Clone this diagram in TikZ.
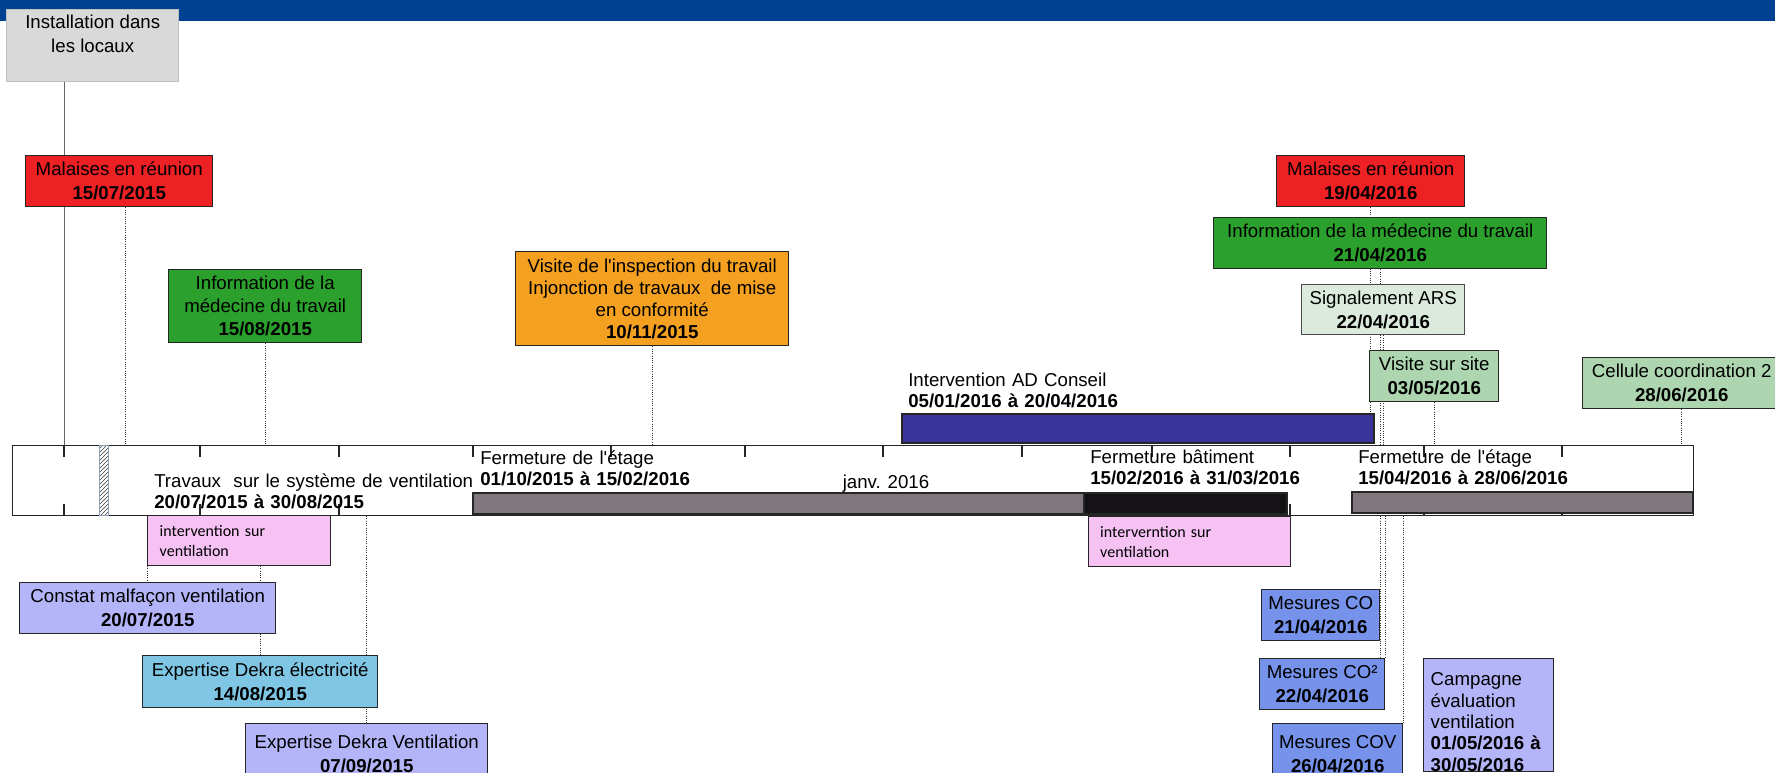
\documentclass[tikz,border=0pt]{standalone}
\usepackage{fontspec}
\setmainfont{Liberation Sans}
\newfontfamily\calib{Carlito}
\usepackage{tikz}
\usetikzlibrary{backgrounds,patterns}
\newcommand{\px}{0.75pt}
\newcommand{\boxfont}{\fontsize{14}{18}\selectfont}
\newcommand{\tagfont}{\fontsize{14}{16}\selectfont}
\newcommand{\notefont}{\calib\fontsize{12}{15}\selectfont}
\newcommand{\apos}{\textquotesingle}
\definecolor{topbar}{RGB}{0,65,145}
\definecolor{instfill}{RGB}{217,217,217}
\definecolor{instline}{RGB}{191,191,191}
\definecolor{redbox}{RGB}{237,32,36}
\definecolor{greenbox}{RGB}{44,160,44}
\definecolor{orangebox}{RGB}{244,160,32}
\definecolor{lavbox}{RGB}{180,180,248}
\definecolor{skybox}{RGB}{126,198,228}
\definecolor{pinkbox}{RGB}{246,194,244}
\definecolor{mesbox}{RGB}{118,146,234}
\definecolor{sigbox}{RGB}{220,234,222}
\definecolor{sitebox}{RGB}{173,214,176}
\definecolor{adbar}{RGB}{58,51,153}
\definecolor{closebar}{RGB}{128,118,125}
\definecolor{shutbar}{RGB}{20,18,20}
\definecolor{hatchline}{RGB}{140,160,190}
\tikzset{
  evt/.style={draw=black!85, line width=1.1pt, inner sep=0pt, align=center, anchor=north west, font=\boxfont},
  boxsize/.style 2 args={minimum width=#1*\px, minimum height=#2*\px},
  note/.style={evt, fill=pinkbox, align=left, font=\notefont},
  tag/.style={inner sep=0pt, anchor=base west, text width=300pt, align=left, font=\tagfont},
  link/.style={densely dotted, black!80, line width=0.7pt},
  tick/.style={black!85, line width=0.9pt},
  bar/.style={draw=black!85, line width=0.9pt},
}

\begin{document}
\begin{tikzpicture}[x=\px, y=-\px]
\useasboundingbox (0,0) rectangle (1775,772);
\fill[topbar] (0,0) rectangle (1775,21);
\node[evt, fill=instfill, draw=instline, boxsize={172}{72}] (inst) at (6,9) {Installation dans\\les locaux\\\mbox{}};

\node[draw=black!85, line width=0.9pt, fill=white, inner sep=0pt, anchor=north west, boxsize={1681}{70}] (band) at (12,445) {};
\foreach \x [count=\i] in {64,200,339,473,611,745,883,1022,1152,1290,1424,1562}{
  \coordinate (t\i) at (\x,445);
  \draw[tick] (t\i) -- ++(0,12) (t\i |- band.south) -- ++(0,-12);
}
\draw[draw=hatchline, line width=0.6pt, pattern=north east lines, pattern color=black!75] (99,445) rectangle (108,515);
\draw[bar, fill=closebar] (473,493) rectangle (1084,514);
\draw[bar, fill=shutbar] (1084,493) rectangle (1287,514);
\draw[bar, fill=closebar] (1352,492) rectangle (1693,513);
\draw[bar, fill=adbar] (902,414) rectangle (1374,443);

\node[tag] (trav) at (154,487) {Travaux\ \ sur le système de ventilation\\\textbf{20/07/2015 à 30/08/2015}};
\node[tag] (etage1) at (480,464) {Fermeture de l\apos étage\\\textbf{01/10/2015 à 15/02/2016}};
\node[tag] (bat) at (1090,463) {Fermeture bâtiment\\\textbf{15/02/2016 à 31/03/2016}};
\node[tag] (etage2) at (1358,463) {Fermeture de l\apos étage\\\textbf{15/04/2016 à 28/06/2016}};
\node[tag] (conseil) at (908,386) {Intervention AD Conseil\\\textbf{05/01/2016 à 20/04/2016}};
\node[font=\tagfont, inner sep=0pt, anchor=base] (janv) at (886,488) {janv. 2016};

\node[evt, fill=redbox, boxsize={187}{51}] (mal1) at (25,155) {Malaises en réunion\\\textbf{15/07/2015}};
\node[evt, fill=greenbox, boxsize={193}{73}, font=\fontsize{14}{17.25}\selectfont] (med1) at (168,269) {Information de la\\médecine du travail\\\textbf{15/08/2015}};
\node[evt, fill=orangebox, boxsize={273}{94}, font=\fontsize{14}{16.5}\selectfont] (inspect) at (515,251) {Visite de l\apos inspection du travail\\Injonction de travaux\ \ de mise\\en conformité\\\textbf{10/11/2015}};
\node[evt, fill=redbox, boxsize={188}{51}] (mal2) at (1276,155) {Malaises en réunion\\\textbf{19/04/2016}};
\node[evt, fill=greenbox, boxsize={333}{51}] (med2) at (1213,217) {Information de la médecine du travail\\\textbf{21/04/2016}};
\node[evt, fill=sigbox, draw=black!70, boxsize={163}{50}] (ars) at (1301,284) {Signalement ARS\\\textbf{22/04/2016}};
\node[evt, fill=sitebox, boxsize={129}{51}] (site) at (1369,350) {Visite sur site\\\textbf{03/05/2016}};
\node[evt, fill=sitebox, boxsize={198}{51}] (cell) at (1582,357) {Cellule coordination 2\\\textbf{28/06/2016}};

\node[note, text width=119.25pt, inner xsep=9pt, minimum height=37.5pt] (vent1) at (147,515) {intervention sur\\ventilation};
\node[evt, fill=lavbox, boxsize={256}{51}] (malf) at (19,582) {Constat malfaçon ventilation\\\textbf{20/07/2015}};
\node[evt, fill=skybox, boxsize={235}{52}] (elec) at (142,655) {Expertise Dekra électricité\\\textbf{14/08/2015}};
\node[evt, fill=lavbox, boxsize={242}{60}] (dekra) at (245,723) {Expertise Dekra Ventilation\\\textbf{07/09/2015}};
\node[note, text width=134.25pt, inner xsep=8.6pt, minimum height=37.5pt] (vent2) at (1088,516) {interverntion sur\\ventilation};
\node[evt, fill=mesbox, boxsize={118}{51}] (co) at (1261,589) {Mesures CO\\\textbf{21/04/2016}};
\node[evt, fill=mesbox, boxsize={125}{51}] (cotwo) at (1259,658) {Mesures CO²\\\textbf{22/04/2016}};
\node[evt, fill=mesbox, boxsize={130}{60}] (cov) at (1272,723) {Mesures COV\\\textbf{26/04/2016}};
\node[evt, fill=lavbox, align=left, font=\tagfont, text width=87pt, inner xsep=5.25pt, minimum height=84.75pt] (camp) at (1423,658) {\rule{0pt}{20pt}Campagne\\évaluation\\ventilation\\\textbf{01/05/2016 à}\\\textbf{30/05/2016}};

\begin{scope}[on background layer]
\draw[black!60, line width=0.7pt] (inst.south -| t1) -- (t1);
\draw[link] ([xshift=4.5pt]mal1.south) -- ([xshift=4.5pt]mal1.south |- band.north);
\draw[link] (med1.south) -- (med1.south |- band.north);
\draw[link] (inspect.south) -- (inspect.south |- band.north);
\draw[link] (mal2.south) -- (mal2.south |- band.north);
\draw[link] (med2.south) -- (med2.south |- band.north);
\draw[link] (ars.south) -- (ars.south |- band.north);
\draw[link] (site.south) -- (site.south |- band.north);
\draw[link] (cell.south) -- (cell.south |- band.north);
\draw[link] (malf.north |- band.south) -- (malf.north);
\draw[link] (elec.north |- band.south) -- (elec.north);
\draw[link] (dekra.north |- band.south) -- (dekra.north);
\draw[link] (co.north east |- band.south) -- (co.north east |- cotwo.north);
\draw[link] (cotwo.north east |- band.south) -- (cotwo.north east);
\draw[link] (cov.north east |- band.south) -- (cov.north east);
\end{scope}
\end{tikzpicture}
\end{document}
